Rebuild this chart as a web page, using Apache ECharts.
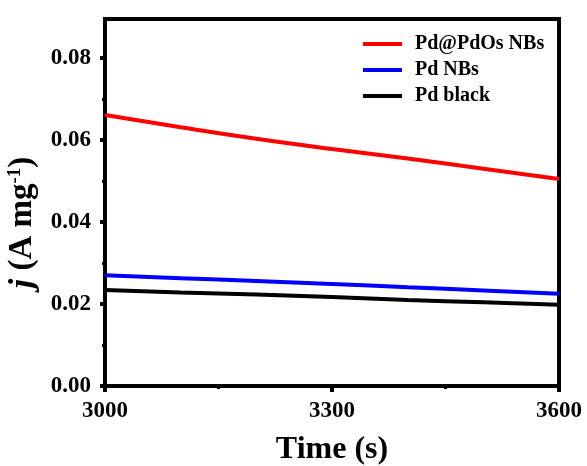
<!DOCTYPE html>
<html><head><meta charset="utf-8">
<script src="https://cdn.jsdelivr.net/npm/echarts@6/dist/echarts.min.js"></script>
<style>html,body{margin:0;padding:0;background:#fff}#c{width:587px;height:466px}</style>
</head><body><div id="c"></div>
<script>
const times = [3000, 3100, 3200, 3300, 3400, 3500, 3600];
const pdPdOs = [0.0661, 0.0631, 0.0603, 0.0578, 0.0555, 0.0530, 0.0505];
const pdNBs = [0.0270, 0.0263, 0.0256, 0.0249, 0.0241, 0.0233, 0.0225];
const pdBlack = [0.0234, 0.0228, 0.0223, 0.0217, 0.0210, 0.0204, 0.0198];
const seriesNames = ['Pd@PdOs NBs', 'Pd NBs', 'Pd black'];
const yTicks = [0, 0.02, 0.04, 0.06, 0.08];
const xTicks = [3000, 3300, 3600];

const F = '"Liberation Serif", "Times New Roman", serif';
const pair = arr => times.map((t, i) => [t, arr[i]]);
const chart = echarts.init(document.getElementById('c'), null, {renderer: 'canvas'});
chart.setOption({
  animation: false,
  backgroundColor: '#fff',
  grid: {left: 105, right: 28, top: 19, bottom: 80, show: true, borderColor: '#000', borderWidth: 4, backgroundColor: 'transparent',
    containLabel: false, outerBoundsMode: 'none'},
  legend: {
    orient: 'vertical', left: 358, top: 29, itemWidth: 39, itemHeight: 4, itemGap: 6,
    icon: 'rect',
    textStyle: {fontFamily: F, fontWeight: 'bold', fontSize: 20, color: '#000', padding: [0, 0, 0, 8]},
    data: seriesNames
  },
  xAxis: {
    type: 'value', min: 3000, max: 3600, interval: 300,
    axisLine: {lineStyle: {color: '#000', width: 4}},
    axisTick: {length: 6, lineStyle: {width: 4, color: '#000'}, customValues: xTicks},
    minorTick: {show: true, splitNumber: 2, length: 3, lineStyle: {width: 3, color: '#000'}},
    splitLine: {show: false},
    axisLabel: {fontFamily: F, fontWeight: 'bold', fontSize: 23, color: '#000', margin: 14,
      customValues: xTicks, formatter: v => String(v)},
    name: 'Time (s)', nameLocation: 'middle', nameGap: 48,
    nameTextStyle: {fontFamily: F, fontWeight: 'bold', fontSize: 32, color: '#000'}
  },
  yAxis: {
    type: 'value', min: 0, max: 0.0895, interval: 0.02,
    axisLine: {lineStyle: {color: '#000', width: 4}},
    axisTick: {length: 5, lineStyle: {width: 4, color: '#000'}, customValues: yTicks},
    minorTick: {show: true, splitNumber: 2, length: 3, lineStyle: {width: 3, color: '#000'}},
    splitLine: {show: false},
    axisLabel: {fontFamily: F, fontWeight: 'bold', fontSize: 23, color: '#000', margin: 14,
      customValues: yTicks, formatter: v => v.toFixed(2)},
    name: '{i|j} {n|(A mg}{s|-1}{n|)}', nameLocation: 'middle', nameGap: 64,
    nameTextStyle: {
      fontFamily: F, fontWeight: 'bold', fontSize: 33, color: '#000', padding: [0, 40, 0, 0],
      rich: {
        i: {fontFamily: F, fontWeight: 'bold', fontStyle: 'italic', fontSize: 34, color: '#000'},
        n: {fontFamily: F, fontWeight: 'bold', fontSize: 33, color: '#000'},
        s: {fontFamily: F, fontWeight: 'bold', fontSize: 19, color: '#000', padding: [0, 0, 16, 0]}
      }
    }
  },
  series: [
    {name: seriesNames[0], type: 'line', data: pair(pdPdOs), showSymbol: false, smooth: true, lineStyle: {color: '#ff0000', width: 4}, itemStyle: {color: '#ff0000'}},
    {name: seriesNames[1], type: 'line', data: pair(pdNBs), showSymbol: false, smooth: true, lineStyle: {color: '#0000ff', width: 4}, itemStyle: {color: '#0000ff'}},
    {name: seriesNames[2], type: 'line', data: pair(pdBlack), showSymbol: false, smooth: true, lineStyle: {color: '#000000', width: 4}, itemStyle: {color: '#000000'}}
  ]
});
</script></body></html>
